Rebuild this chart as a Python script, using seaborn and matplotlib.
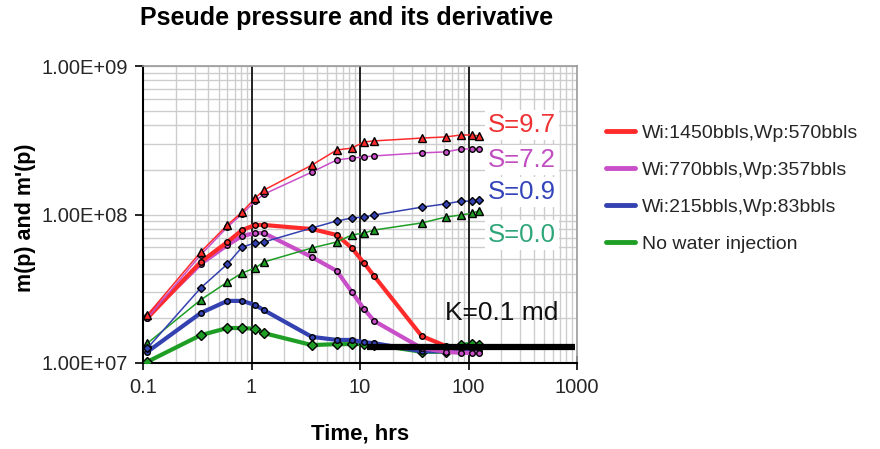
import matplotlib
matplotlib.use("Agg")
import matplotlib.pyplot as plt
import numpy as np
import pandas as pd
import seaborn as sns
from matplotlib.lines import Line2D
from matplotlib.ticker import LogLocator, FixedLocator, FuncFormatter, NullFormatter

# ---------------- data ----------------
time_hrs = [0.11, 0.34, 0.6, 0.82, 1.08, 1.3, 3.6, 6.1, 8.4, 10.9, 13.5, 37, 62, 85, 107, 126]

red_p = [2.11e7, 5.59e7, 8.5e7, 1.04e8, 1.29e8, 1.46e8, 2.15e8, 2.72e8, 2.80e8, 3.08e8, 3.13e8,
         3.27e8, 3.33e8, 3.43e8, 3.43e8, 3.38e8]
red_d = [2.01e7, 4.79e7, 6.53e7, 7.86e7, 8.5e7, 8.5e7, 7.98e7, 7.28e7, 5.95e7, 4.71e7, 3.85e7,
         1.52e7, 1.30e7, 1.28e7, 1.28e7, 1.28e7]
mag_p = [2.01e7, 5.34e7, 8.24e7, 1.01e8, 1.23e8, 1.37e8, 1.93e8, 2.33e8, 2.40e8, 2.44e8, 2.48e8,
         2.60e8, 2.64e8, 2.76e8, 2.76e8, 2.76e8]
mag_d = [2.07e7, 4.64e7, 6.23e7, 7.17e7, 7.5e7, 7.5e7, 5.17e7, 4.17e7, 3.01e7, 2.31e7, 1.92e7,
         1.26e7, 1.19e7, 1.17e7, 1.17e7, 1.17e7]
blue_p = [1.26e7, 3.2e7, 4.64e7, 6.04e7, 6.43e7, 6.53e7, 8.11e7, 9.04e7, 9.47e7, 9.63e7, 9.92e7,
          1.12e8, 1.18e8, 1.23e8, 1.23e8, 1.25e8]
blue_d = [1.19e7, 2.17e7, 2.62e7, 2.62e7, 2.46e7, 2.27e7, 1.50e7, 1.43e7, 1.43e7, 1.38e7, 1.36e7,
          1.20e7, 1.20e7, 1.21e7, 1.21e7, 1.21e7]
green_p = [1.36e7, 2.66e7, 3.51e7, 4.04e7, 4.36e7, 4.79e7, 5.95e7, 6.53e7, 7.28e7, 7.5e7, 7.86e7,
           8.77e7, 9.62e7, 9.92e7, 1.02e8, 1.06e8]
green_d = [1.02e7, 1.54e7, 1.72e7, 1.72e7, 1.70e7, 1.59e7, 1.32e7, 1.34e7, 1.34e7, 1.34e7, 1.33e7,
           1.19e7, 1.19e7, 1.32e7, 1.35e7, 1.32e7]

k_line_t = [11.6, 960]
k_line_v = [1.28e7, 1.28e7]

legend_labels = ["Wi:1450bbls,Wp:570bbls", "Wi:770bbls,Wp:357bbls",
                 "Wi:215bbls,Wp:83bbls", "No water injection"]
skin_labels = ["S=9.7", "S=7.2", "S=0.9", "S=0.0"]
x_tick_values = [0.1, 1, 10, 100, 1000]
x_tick_labels = ["0.1", "1", "10", "100", "1000"]
y_tick_values = [1e7, 1e8, 1e9]

# ---------------- style ----------------
RED, MAG, BLUE, GREEN = "#ff2b2b", "#c94fc9", "#3441b0", "#1e9e24"
skin_colors = ["#ee3232", "#c04ec0", "#3344bb", "#2fa67a"]

sns.set_theme(style="white")
plt.rcParams["font.family"] = ["Liberation Sans", "DejaVu Sans"]

W, H = 880, 449
fig = plt.figure(figsize=(W / 100, H / 100), dpi=100)
ax = fig.add_axes([143 / W, 1 - 363 / H, (577 - 143) / W, (363 - 66) / H])

ax.set_xscale("log")
ax.set_yscale("log")
ax.set_xlim(0.1, 1000)
ax.set_ylim(1e7, 1e9)

# grid
ax.xaxis.set_minor_locator(LogLocator(base=10, subs=np.arange(2, 10)))
ax.yaxis.set_minor_locator(LogLocator(base=10, subs=np.arange(2, 10)))
ax.xaxis.set_minor_formatter(NullFormatter())
ax.yaxis.set_minor_formatter(NullFormatter())
ax.grid(which="minor", axis="both", color="#cdcdcd", lw=1.0, zorder=0.5)
ax.grid(which="major", axis="y", color="#cdcdcd", lw=1.0, zorder=0.5)
ax.grid(which="major", axis="x", visible=False)
for xv in x_tick_values[1:-1]:
    ax.axvline(xv, color="#222222", lw=1.4, zorder=1)
ax.set_axisbelow(True)

def draw(vals, color, marker, ms, lw, z, mec="black"):
    d = pd.DataFrame({"t": time_hrs, "v": vals})
    sns.lineplot(data=d, x="t", y="v", ax=ax, color=color, lw=lw, marker=marker,
                 markersize=ms, markerfacecolor=color, markeredgecolor=mec,
                 markeredgewidth=1.0, estimator=None, sort=False, zorder=z)

# derivative curves (thick)
draw(green_d, GREEN, "D", 5.5, 3.0, 3)
draw(blue_d, BLUE, "o", 4, 3.0, 3)
draw(mag_d, MAG, "o", 4, 3.0, 3)
draw(red_d, RED, "o", 4, 3.0, 3)
# pressure curves (thin)
draw(green_p, GREEN, "^", 5.5, 1.1, 4)
draw(blue_p, BLUE, "D", 4, 1.1, 4)
draw(mag_p, MAG, "o", 4, 1.1, 4)
draw(red_p, RED, "^", 5.5, 1.1, 4)

sns.lineplot(x=k_line_t, y=k_line_v, ax=ax, color="black", lw=4.5,
             estimator=None, sort=False, zorder=6, solid_capstyle="butt")

# ticks
ax.xaxis.set_major_locator(FixedLocator(x_tick_values))
ax.set_xticklabels(x_tick_labels)
ax.yaxis.set_major_locator(FixedLocator(y_tick_values))
ax.yaxis.set_major_formatter(FuncFormatter(lambda v, _: f"{v:.2E}"))
ax.tick_params(axis="x", which="major", direction="inout", length=10, width=1.2,
               color="black", labelsize=14.5, pad=6, bottom=True)
ax.tick_params(axis="y", which="major", direction="out", length=6, width=1.2,
               color="black", labelsize=14.5, pad=5, left=True)
ax.tick_params(which="minor", length=0)

for s in ["left", "bottom"]:
    ax.spines[s].set_color("black")
    ax.spines[s].set_linewidth(1.5)
for s in ["top", "right"]:
    ax.spines[s].set_color("#9a9a9a")
    ax.spines[s].set_linewidth(1.2)

ax.set_xlabel("")
ax.set_ylabel("")

# titles / labels
fig.text(347 / W, 1 - 18 / H, "Pseude pressure and its derivative", ha="center", va="center",
         fontsize=18, fontweight="bold", color="black")
fig.text(360 / W, 1 - 434 / H, "Time, hrs", ha="center", va="center",
         fontsize=16, fontweight="bold", color="black")
fig.text(25 / W, 1 - 218 / H, "m(p) and m'(p)", ha="center", va="center", rotation=90,
         fontsize=15.5, fontweight="bold", color="black")

# skin annotations
skin_y = [125, 160, 192, 235]
for lab, col, yy in zip(skin_labels, skin_colors, skin_y):
    fig.text(488 / W, 1 - yy / H, lab, ha="left", va="center", fontsize=18.5, color=col,
             bbox=dict(facecolor="white", edgecolor="none", pad=2), zorder=10)

fig.text(445 / W, 1 - 313 / H, "K=0.1 md", ha="left", va="center", fontsize=19,
         color="#111111", zorder=10)

# legend
handles = [Line2D([0], [0], color=c, lw=3.5) for c in [RED, MAG, BLUE, GREEN]]
fig.legend(handles, legend_labels, loc="upper left", bbox_to_anchor=(606 / W, 1 - 124 / H),
           frameon=False, fontsize=14, handlelength=1.5, handletextpad=0.35,
           labelspacing=1.0, borderpad=0, borderaxespad=0)

fig.savefig("out.png", dpi=100)
